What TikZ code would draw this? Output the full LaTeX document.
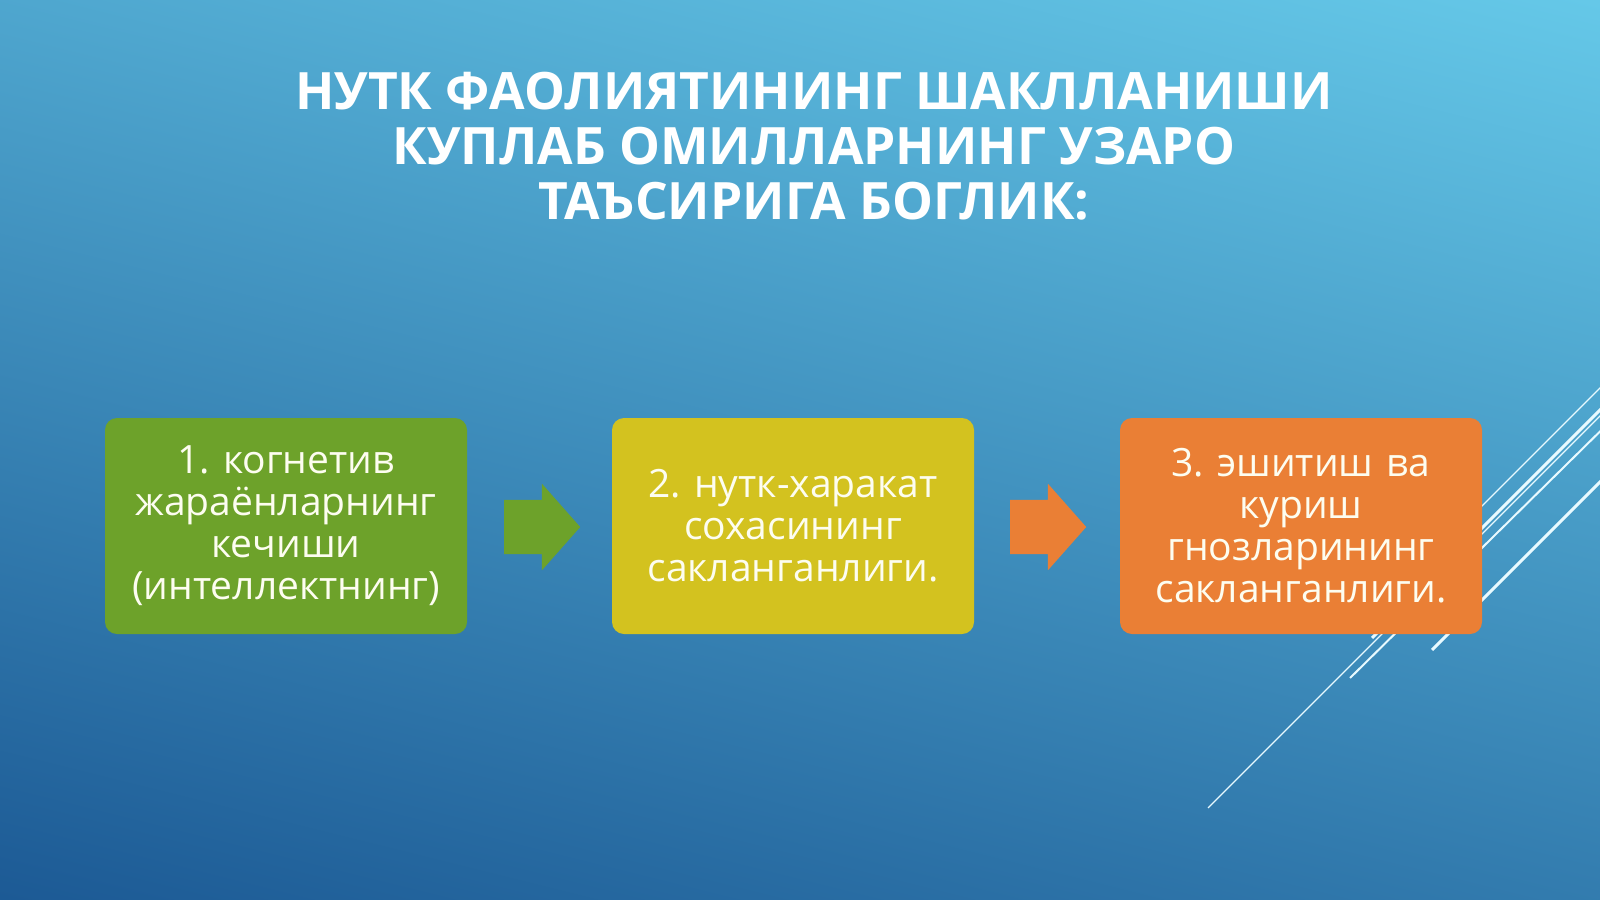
\documentclass[tikz,border=0pt]{standalone}
\usepackage{fontspec}
\setmainfont{Open Sans}
\usetikzlibrary{shapes.arrows,shadows}
\definecolor{bgtop}{HTML}{6AD0EE}
\definecolor{bgmid}{HTML}{2E90C7}
\definecolor{bgbot}{HTML}{17528F}
\definecolor{boxgreen}{HTML}{6DA22A}
\definecolor{boxyellow}{HTML}{D3C21F}
\definecolor{boxorange}{HTML}{EA7F35}
\definecolor{txtwhite}{HTML}{FDFDF0}
\definecolor{linecol}{HTML}{E8FAFF}
\tikzset{
  stagebox/.style={rectangle, rounded corners=12pt, minimum width=362pt, minimum height=216pt,
    text width=350pt, align=center, text=txtwhite, inner sep=0pt,
    font=\frenchspacing\fontsize{39}{42}\selectfont},
  blockarrow/.style={single arrow, anchor=tail, minimum height=76pt, inner xsep=0pt, inner ysep=27pt,
    single arrow head extend=16pt, single arrow head indent=0pt, single arrow tip angle=97},
  titletext/.style={align=center, text=white, font=\frenchspacing\bfseries\fontsize{51.5}{55}\selectfont},
  thinline/.style={draw=linecol, line width=1.3pt},
  medline/.style={draw=linecol, line width=2pt},
  thickline/.style={draw=linecol, line width=3pt}
}
\begin{document}
\begin{tikzpicture}[x=1pt,y=-1pt]
\useasboundingbox (0,0) rectangle (1600,899);
\shade[top color=bgtop, middle color=bgmid, bottom color=bgbot, shading angle=-14] (-200,-200) rectangle (1800,1100);
\begin{scope}
\clip (0,0) rectangle (1600,899);
% decorative lines
\coordinate (l1a) at (1640,348); \coordinate (l1b) at (1440,548);
\coordinate (l2a) at (1640,370); \coordinate (l2b) at (1372,638);
\coordinate (l3a) at (1640,376); \coordinate (l3b) at (1208,808);
\coordinate (l4a) at (1640,392); \coordinate (l4b) at (1350,678);
\coordinate (l5a) at (1640,442); \coordinate (l5b) at (1432,650);
\draw[thinline] (l1a) -- (l1b);
\draw[thickline] (l2a) -- (l2b);
\draw[thinline] (l3a) -- (l3b);
\draw[medline] (l4a) -- (l4b);
\draw[thickline] (l5a) -- (l5b);
\end{scope}
\node[titletext] (title) at (814,146) {НУТК ФАОЛИЯТИНИНГ ШАКЛЛАНИШИ\\КУПЛАБ ОМИЛЛАРНИНГ УЗАРО\\ТАЪСИРИГА БОГЛИК:};
\node[stagebox, fill=boxgreen] (b1) at (286,526) {1. когнетив\\жараёнларнинг\\кечиши\\(интеллектнинг)};
\node[stagebox, fill=boxyellow] (b2) at (793,526) {2. нутк-харакат\\сохасининг\\сакланганлиги.};
\node[stagebox, fill=boxorange] (b3) at (1301,526) {3. эшитиш ва\\куриш\\гнозларининг\\сакланганлиги.};
\node[blockarrow, fill=boxgreen] (a1) at (504,527) {};
\node[blockarrow, fill=boxorange] (a2) at (1010,527) {};
\end{tikzpicture}
\end{document}
